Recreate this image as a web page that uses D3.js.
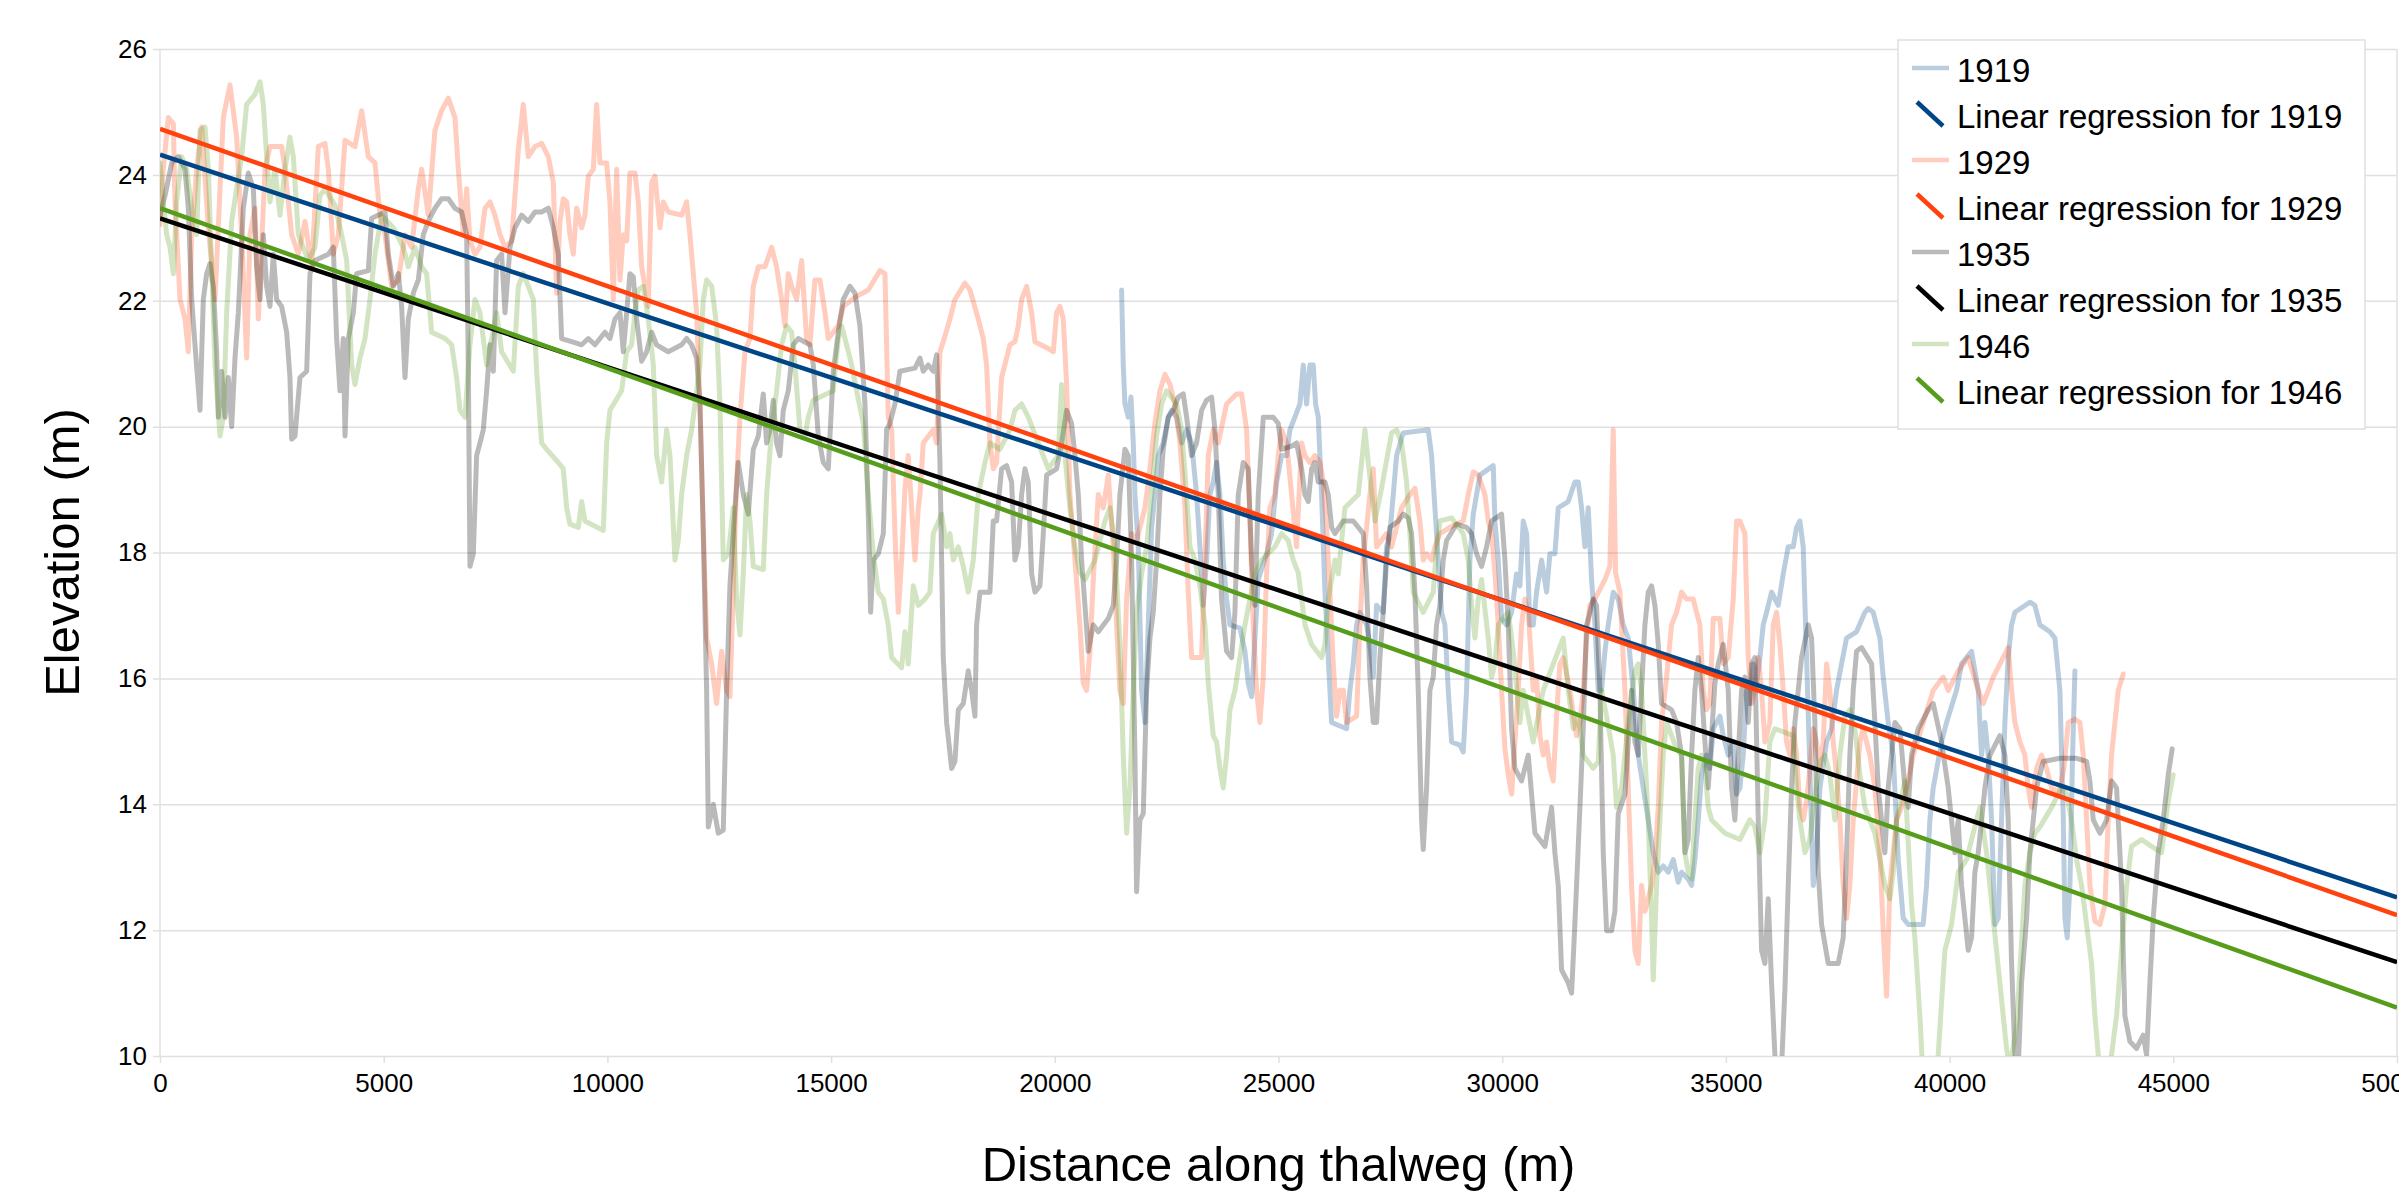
<!DOCTYPE html>
<html><head><meta charset="utf-8">
<script src="https://cdn.jsdelivr.net/npm/d3@7"></script>
<style>
html,body{margin:0;padding:0;background:#fff;overflow:hidden;}
svg{display:block;font-family:"Liberation Sans",Arial,sans-serif;}
</style></head><body>
<svg id="chart" width="2399" height="1197"></svg>
<script>
// ---------- data ----------
const xTicks = [0,5000,10000,15000,20000,25000,30000,35000,40000,45000,50000];
const yTicks = [10,12,14,16,18,20,22,24,26];
const seriesNames = ["1919","1929","1935","1946"];
const seriesColors = ["#004586","#ff420e","#000000","#579d1c"];
const regressionX = [0, 50000];
const regressionStartY = [24.32, 24.73, 23.31, 23.47];
const regressionEndY = [12.52, 12.24, 11.49, 10.77];

const data1919 = [[21493,22.17],[21530,20.98],[21567,20.36],[21642,20.15],[21702,20.47],[21754,19.74],[21791,18.92],[21866,18.09],[21940,15.81],[22015,15.30],[22089,16.85],[22164,18.40],[22238,18.92],[22313,19.54],[22424,19.74],[22536,20.15],[22611,20.26],[22723,20.15],[22834,19.74],[22946,19.95],[23058,19.74],[23169,18.92],[23244,18.09],[23318,17.16],[23393,17.88],[23467,18.92],[23542,19.12],[23616,19.43],[23691,18.92],[23765,17.88],[23840,17.26],[23914,16.85],[24138,16.80],[24250,16.43],[24324,15.92],[24399,15.71],[24473,16.64],[24548,17.57],[24734,17.98],[24846,18.30],[24958,19.12],[25069,19.54],[25181,19.54],[25255,19.95],[25367,20.15],[25479,20.36],[25553,20.98],[25628,20.36],[25702,20.98],[25777,20.98],[25829,20.36],[25889,20.15],[25963,18.92],[26038,17.37],[26112,16.33],[26187,15.30],[26522,15.20],[26596,15.81],[26671,16.23],[26745,16.85],[26820,17.05],[26969,16.85],[27043,16.54],[27118,16.02],[27192,17.16],[27341,17.05],[27416,18.09],[27490,18.30],[27565,18.92],[27639,19.54],[27788,19.90],[28347,19.95],[28422,19.54],[28496,18.71],[28571,17.88],[28645,17.05],[28720,16.85],[28794,15.81],[28869,14.99],[29055,14.94],[29129,14.83],[29204,15.81],[29278,17.88],[29353,18.61],[29427,18.92],[29502,19.23],[29800,19.38],[29837,18.50],[29912,17.88],[29986,16.95],[30098,16.85],[30210,17.05],[30321,17.66],[30396,17.47],[30470,18.50],[30545,18.30],[30619,16.85],[30694,16.85],[30768,17.37],[30880,17.88],[30992,17.37],[31066,17.98],[31178,17.98],[31253,18.71],[31476,18.81],[31625,19.12],[31700,19.12],[31774,18.71],[31849,18.09],[31923,18.71],[31998,17.57],[32072,16.85],[32147,15.81],[32221,15.81],[32296,16.43],[32370,16.85],[32482,17.37],[32594,17.26],[32705,16.85],[32817,16.64],[32929,15.81],[33041,14.78],[33152,14.26],[33264,13.75],[33376,13.23],[33488,12.92],[33599,13.02],[33711,12.92],[33823,13.12],[33934,12.76],[34009,12.92],[34158,12.81],[34233,12.71],[34307,13.12],[34382,13.75],[34456,14.47],[34568,14.78],[34642,14.57],[34717,15.20],[34866,15.40],[34940,15.09],[35052,14.78],[35164,14.99],[35238,14.16],[35313,14.26],[35387,14.78],[35462,15.81],[35536,15.60],[35611,16.23],[35685,15.92],[35760,16.33],[35834,16.85],[35909,17.05],[36021,17.37],[36170,17.16],[36282,17.66],[36393,18.09],[36505,18.09],[36579,18.40],[36654,18.50],[36728,18.09],[36803,16.33],[36877,14.57],[36952,12.71],[37026,13.23],[37101,14.26],[37250,14.99],[37362,15.20],[37473,15.81],[37585,16.23],[37697,16.64],[37920,16.74],[38107,17.05],[38181,17.11],[38293,17.05],[38442,16.64],[38516,16.02],[38628,15.30],[38740,14.78],[38852,13.12],[38963,12.19],[39075,12.09],[39410,12.09],[39485,12.71],[39559,13.75],[39634,14.26],[39820,14.99],[39932,15.30],[40155,15.81],[40267,16.23],[40491,16.43],[40640,15.81],[40714,14.78],[40789,15.30],[40863,14.78],[40938,13.75],[41012,12.09],[41087,12.19],[41161,13.75],[41236,15.30],[41310,16.33],[41385,16.85],[41459,17.05],[41794,17.21],[41906,17.16],[42018,16.85],[42241,16.74],[42353,16.64],[42465,15.81],[42540,13.80],[42577,12.19],[42629,11.88],[42689,12.71],[42749,14.78],[42801,16.12]];

const data1929 = [[0,23.21],[74,24.09],[186,24.91],[298,24.81],[335,23.57],[447,22.02],[559,21.71],[633,21.19],[708,23.05],[819,24.09],[931,24.76],[1080,23.16],[1229,22.02],[1415,24.91],[1564,25.43],[1713,24.60],[1825,23.05],[1937,21.09],[2011,23.05],[2123,23.47],[2198,21.71],[2347,24.09],[2458,24.45],[2719,24.45],[2794,24.09],[2943,23.05],[3092,22.74],[3241,23.26],[3390,22.54],[3539,24.45],[3688,24.50],[3762,24.09],[3874,22.74],[3986,23.05],[4135,24.55],[4358,24.45],[4507,25.02],[4656,24.29],[4805,24.19],[4917,23.36],[5029,23.05],[5178,22.23],[5327,22.33],[5476,23.05],[5625,22.85],[5774,23.78],[5848,24.09],[5997,23.36],[6146,24.71],[6295,25.02],[6444,25.22],[6593,24.91],[6668,24.09],[6779,23.05],[6854,23.78],[6928,22.95],[7040,22.74],[7152,22.85],[7264,23.47],[7375,23.57],[7487,23.36],[7599,23.05],[7711,22.85],[7860,22.95],[8009,24.40],[8120,25.12],[8232,24.29],[8381,24.45],[8530,24.50],[8679,24.29],[8791,23.88],[8865,22.12],[8940,23.26],[9014,23.62],[9089,23.57],[9163,23.05],[9238,22.74],[9312,23.47],[9424,23.16],[9499,23.36],[9573,23.98],[9685,24.09],[9759,25.12],[9834,24.19],[9983,24.19],[10057,23.57],[10132,22.02],[10206,24.09],[10281,22.33],[10355,23.05],[10430,22.95],[10504,24.03],[10616,24.03],[10691,23.57],[10765,22.54],[10914,21.91],[10989,23.88],[11063,23.98],[11175,23.16],[11249,23.57],[11361,23.41],[11659,23.36],[11771,23.57],[11845,23.05],[11920,22.43],[11994,21.81],[12069,20.36],[12143,18.40],[12218,16.64],[12330,16.23],[12441,15.60],[12553,16.43],[12665,15.81],[12739,15.71],[12814,17.47],[12888,19.12],[12963,20.15],[13075,21.19],[13186,21.40],[13261,22.23],[13373,22.54],[13522,22.54],[13671,22.85],[13782,22.54],[13894,22.02],[13969,21.60],[14043,22.43],[14118,22.23],[14229,22.02],[14341,22.64],[14453,21.40],[14527,21.30],[14639,22.33],[14751,22.33],[14863,21.81],[14937,21.40],[15161,21.60],[15272,21.91],[15570,22.07],[15831,22.17],[16092,22.48],[16204,22.43],[16278,20.15],[16353,19.95],[16427,18.30],[16502,17.05],[16576,17.88],[16651,19.02],[16725,19.54],[16800,18.71],[16874,17.88],[16949,18.71],[16986,18.92],[17060,19.74],[17284,19.95],[17358,19.74],[17433,21.19],[17507,21.35],[17656,21.71],[17768,22.02],[17992,22.28],[18103,22.17],[18290,21.71],[18401,21.40],[18476,20.98],[18550,19.74],[18625,19.33],[18699,19.43],[18811,20.78],[18997,21.30],[19109,21.35],[19184,21.60],[19258,22.02],[19370,22.23],[19482,21.81],[19556,21.35],[19854,21.24],[19966,21.19],[20040,21.81],[20115,21.91],[20189,21.71],[20264,20.67],[20338,18.92],[20450,17.88],[20562,16.85],[20636,15.92],[20711,15.81],[20785,16.43],[20860,17.57],[20972,18.92],[21083,18.71],[21195,19.23],[21307,18.09],[21381,16.85],[21456,15.81],[21530,15.60],[21605,17.26],[21717,18.30],[21828,18.19],[22015,18.71],[22126,19.33],[22238,20.05],[22350,20.57],[22462,20.83],[22573,20.67],[22685,20.36],[22797,19.74],[22909,18.71],[22983,17.37],[23058,16.33],[23281,16.33],[23356,17.88],[23430,19.54],[23542,19.95],[23654,19.74],[23840,20.36],[24063,20.52],[24175,20.52],[24287,19.95],[24361,18.50],[24436,16.85],[24510,15.81],[24585,15.30],[24659,16.02],[24734,17.68],[24808,18.71],[24920,18.92],[24995,19.54],[25069,19.95],[25181,19.74],[25293,18.92],[25404,18.09],[25516,19.74],[25591,19.54],[25702,19.43],[25814,19.54],[25926,19.43],[26000,19.12],[26075,18.40],[26149,17.37],[26224,16.23],[26298,15.40],[26373,15.81],[26447,15.81],[26522,15.30],[26745,15.40],[26820,16.85],[26894,17.88],[26969,18.40],[27043,18.92],[27118,19.33],[27192,18.09],[27416,18.30],[27528,18.09],[27639,18.40],[27751,18.71],[27937,18.92],[28049,19.02],[28161,18.50],[28235,17.88],[28310,17.98],[28422,17.88],[28496,18.09],[28608,18.30],[28831,18.40],[29129,18.50],[29241,18.92],[29353,19.28],[29465,19.23],[29614,18.92],[29688,18.50],[29763,18.30],[29837,17.68],[29912,16.85],[29986,15.81],[30061,14.88],[30135,14.47],[30210,14.16],[30284,14.99],[30359,15.81],[30433,16.85],[30508,17.26],[30582,17.05],[30694,15.81],[30768,16.02],[30843,15.09],[30917,14.78],[30992,14.99],[31066,14.57],[31141,14.37],[31215,15.40],[31290,16.23],[31364,16.33],[31513,15.81],[31662,15.09],[31737,15.30],[31811,15.81],[31886,16.64],[31960,17.16],[32072,17.26],[32296,17.57],[32407,17.78],[32482,19.95],[32534,17.68],[32631,17.37],[32743,15.81],[32817,14.26],[32892,12.71],[32966,11.68],[33041,11.47],[33115,12.71],[33190,12.30],[33264,12.50],[33339,12.71],[33413,13.12],[33488,13.95],[33562,15.30],[33674,16.02],[33786,16.85],[33897,17.05],[34009,17.37],[34121,17.26],[34270,17.26],[34344,17.05],[34419,16.85],[34493,15.81],[34568,15.50],[34642,15.60],[34717,16.95],[34866,16.95],[34940,16.23],[35052,16.33],[35164,17.26],[35238,18.50],[35313,18.50],[35425,18.30],[35499,16.33],[35574,15.60],[35648,15.81],[35723,16.33],[35797,15.81],[35872,14.99],[35983,15.30],[36058,16.85],[36132,17.05],[36207,16.54],[36281,15.81],[36356,14.99],[36430,14.78],[36505,15.20],[36579,14.78],[36654,13.95],[36728,13.75],[36803,14.05],[36877,14.57],[36952,15.20],[37026,14.99],[37101,14.57],[37175,14.99],[37250,16.23],[37324,15.81],[37399,14.99],[37473,14.47],[37548,13.75],[37622,12.71],[37697,12.19],[37771,12.71],[37846,13.75],[37920,14.37],[37995,14.99],[38069,15.20],[38218,14.78],[38330,14.26],[38442,13.23],[38516,11.99],[38591,10.95],[38665,12.71],[38740,13.23],[38814,13.75],[38926,13.95],[39038,14.26],[39187,14.78],[39410,15.30],[39634,15.81],[39857,16.02],[39969,15.81],[40193,16.12],[40416,16.33],[40640,15.81],[40752,15.60],[40975,16.02],[41310,16.49],[41385,15.81],[41459,15.30],[41571,14.99],[41683,14.78],[41757,14.26],[41832,13.95],[41944,14.57],[42055,14.78],[42167,14.57],[42279,14.26],[42450,14.20],[42560,14.60],[42652,15.30],[42801,15.35],[42912,15.30],[42987,14.78],[43062,13.75],[43136,12.71],[43248,12.14],[43360,12.09],[43471,12.40],[43546,13.75],[43620,14.78],[43695,15.30],[43769,15.81],[43881,16.07]];

const data1935 = [[0,23.36],[112,23.67],[261,24.19],[410,24.29],[559,24.09],[633,23.47],[708,22.02],[782,21.30],[894,20.26],[968,22.02],[1043,22.43],[1117,22.59],[1192,22.23],[1266,21.19],[1304,20.15],[1378,20.88],[1453,20.15],[1527,20.78],[1602,20.00],[1676,21.09],[1751,21.81],[1862,23.47],[1974,24.03],[2086,23.78],[2160,22.54],[2235,22.02],[2309,23.05],[2384,22.23],[2458,21.91],[2533,22.74],[2607,22.02],[2719,21.91],[2831,21.50],[2905,20.78],[2943,19.80],[3017,19.85],[3129,20.78],[3278,20.88],[3352,22.43],[3464,22.64],[3762,22.74],[3874,22.85],[3948,21.40],[4023,20.57],[4097,21.40],[4135,19.85],[4209,21.40],[4321,21.81],[4395,22.43],[4656,22.48],[4731,23.31],[5029,23.41],[5103,22.74],[5215,22.23],[5327,22.43],[5401,21.91],[5476,20.78],[5550,21.71],[5662,22.12],[5774,22.33],[5885,23.05],[5997,23.26],[6146,23.47],[6295,23.62],[6444,23.62],[6593,23.47],[6742,23.41],[6854,23.05],[6891,20.98],[6928,17.78],[7003,17.98],[7077,19.54],[7152,19.74],[7226,19.95],[7301,20.57],[7375,21.30],[7450,20.88],[7524,22.64],[7636,22.74],[7711,21.81],[7823,22.85],[7934,23.16],[8083,23.36],[8232,23.26],[8381,23.41],[8530,23.41],[8679,23.47],[8791,23.16],[8903,22.74],[8977,21.40],[9201,21.35],[9424,21.30],[9573,21.40],[9722,21.30],[9946,21.50],[10057,21.40],[10169,21.71],[10281,21.81],[10355,21.19],[10430,21.81],[10504,22.43],[10579,22.38],[10653,21.71],[10765,21.04],[10877,21.19],[10989,21.50],[11100,21.30],[11361,21.19],[11659,21.30],[11771,21.40],[11883,21.30],[11994,21.09],[12069,20.36],[12143,18.30],[12218,15.81],[12255,13.64],[12367,14.00],[12479,13.54],[12590,13.59],[12665,15.81],[12739,17.47],[12851,18.71],[12925,19.43],[13037,18.92],[13149,18.61],[13261,19.64],[13373,19.85],[13484,20.52],[13559,19.74],[13633,19.95],[13708,20.42],[13782,19.74],[13857,19.54],[13931,20.26],[14043,20.57],[14155,21.30],[14267,21.40],[14527,21.30],[14602,20.98],[14714,19.85],[14825,19.43],[14937,19.33],[15049,20.88],[15161,21.50],[15272,22.02],[15421,22.23],[15533,22.12],[15645,21.60],[15757,20.36],[15831,18.61],[15883,17.05],[15943,17.88],[16055,17.98],[16167,18.30],[16241,19.95],[16315,20.05],[16427,20.36],[16539,20.88],[16874,20.93],[16986,21.09],[17060,20.88],[17172,20.98],[17284,20.88],[17358,21.14],[17396,20.36],[17433,19.43],[17507,16.33],[17582,15.30],[17694,14.57],[17768,14.68],[17843,15.50],[17954,15.60],[18066,16.12],[18141,15.81],[18215,15.40],[18252,16.85],[18327,17.37],[18550,17.37],[18625,18.50],[18699,18.50],[18811,19.33],[18923,19.38],[19035,19.12],[19109,17.88],[19184,18.09],[19258,18.92],[19333,19.33],[19407,19.12],[19482,17.66],[19556,17.37],[19668,17.47],[19743,18.30],[19817,19.23],[20040,19.33],[20152,19.74],[20264,20.26],[20375,20.05],[20450,19.54],[20525,18.92],[20599,17.88],[20674,17.16],[20748,16.43],[20860,16.85],[20972,16.74],[21195,16.95],[21307,17.16],[21381,17.88],[21456,18.92],[21567,19.64],[21642,19.54],[21717,17.88],[21791,14.78],[21828,12.61],[21903,13.75],[21977,13.85],[22052,15.81],[22126,16.64],[22201,17.05],[22275,17.88],[22350,18.92],[22424,19.64],[22536,20.15],[22648,20.26],[22760,20.47],[22871,20.52],[22946,20.15],[23058,19.54],[23169,19.74],[23281,20.26],[23393,20.42],[23505,20.47],[23579,19.95],[23654,18.92],[23728,17.26],[23840,16.43],[23952,16.33],[24026,17.05],[24101,18.92],[24212,19.43],[24324,19.33],[24399,17.88],[24473,17.16],[24548,18.92],[24660,20.15],[24883,20.15],[24995,20.05],[25069,19.64],[25293,19.69],[25404,19.74],[25516,19.33],[25591,18.92],[25665,18.81],[25740,19.33],[25814,19.43],[25889,19.12],[26038,19.12],[26112,18.92],[26187,18.40],[26261,18.30],[26447,18.50],[26671,18.50],[26894,18.30],[26969,17.47],[27043,16.02],[27118,15.30],[27192,15.30],[27267,16.33],[27341,17.05],[27416,17.88],[27490,18.40],[27677,18.50],[27788,18.61],[27900,18.55],[27975,18.30],[28049,17.37],[28124,15.81],[28198,13.75],[28235,13.28],[28310,14.26],[28384,15.81],[28459,16.02],[28533,16.85],[28608,17.16],[28682,17.88],[28757,18.19],[28980,18.45],[29204,18.40],[29316,18.30],[29427,17.98],[29539,17.78],[29651,18.09],[29763,18.50],[29986,18.61],[30061,17.88],[30135,16.85],[30210,15.20],[30284,14.57],[30433,14.37],[30582,14.78],[30657,14.16],[30731,13.54],[30955,13.33],[31029,13.64],[31104,13.95],[31178,13.23],[31253,12.71],[31327,11.37],[31476,11.16],[31551,11.00],[31610,11.88],[31662,12.71],[31737,13.95],[31811,15.20],[31886,16.85],[31960,17.05],[32035,17.26],[32109,17.16],[32184,15.81],[32258,13.23],[32333,11.99],[32445,11.99],[32519,12.30],[32594,13.85],[32743,14.16],[32817,14.99],[32892,15.81],[32966,14.99],[33041,14.78],[33115,15.81],[33190,16.85],[33264,17.37],[33339,17.47],[33413,17.16],[33488,16.54],[33562,15.60],[33786,15.50],[33897,15.30],[34009,14.78],[34084,13.23],[34158,13.44],[34233,14.78],[34307,15.81],[34382,16.33],[34456,15.81],[34531,14.99],[34605,14.26],[34680,15.09],[34754,15.92],[34829,16.23],[34940,16.54],[35052,15.81],[35127,14.26],[35201,13.75],[35276,14.78],[35350,15.81],[35425,16.02],[35499,15.30],[35574,16.23],[35648,16.33],[35723,13.75],[35797,11.68],[35872,11.47],[35946,12.50],[36021,11.16],[36095,10.02],[36170,9.60],[36244,9.81],[36319,11.06],[36393,12.71],[36468,14.26],[36542,15.30],[36617,15.81],[36691,16.33],[36840,16.85],[36915,16.64],[36989,15.30],[37064,12.92],[37138,12.09],[37287,11.47],[37511,11.47],[37622,11.88],[37697,13.23],[37771,14.78],[37846,15.81],[37920,16.43],[38032,16.49],[38256,16.23],[38330,15.30],[38405,14.26],[38554,13.23],[38628,14.26],[38777,15.30],[38889,15.20],[39001,14.26],[39075,13.95],[39150,14.78],[39299,15.20],[39522,15.50],[39634,15.60],[39820,14.99],[39969,14.26],[40118,13.23],[40193,13.75],[40267,12.71],[40342,12.19],[40416,11.68],[40491,11.88],[40565,12.92],[40640,13.23],[40789,14.26],[40901,14.78],[41124,15.09],[41236,14.78],[41310,13.75],[41385,11.47],[41460,10.02],[41534,9.80],[41608,11.16],[41721,12.19],[41795,13.23],[41944,14.26],[42093,14.68],[42466,14.73],[42838,14.73],[43062,14.68],[43136,14.37],[43211,13.75],[43360,13.54],[43509,13.75],[43620,14.37],[43732,14.26],[43844,12.71],[43918,10.64],[44030,10.23],[44179,10.12],[44328,10.33],[44403,10.02],[44477,11.16],[44552,12.19],[44663,13.23],[44775,13.75],[44887,14.47],[44976,14.88]];

const data1946 = [[0,24.19],[74,23.57],[149,23.05],[223,22.85],[298,22.43],[372,23.57],[484,24.29],[596,24.09],[708,23.47],[819,23.05],[894,24.71],[1005,24.76],[1080,24.09],[1155,22.54],[1229,20.98],[1341,19.85],[1415,20.15],[1490,21.81],[1602,23.26],[1713,23.78],[1825,24.29],[1937,25.12],[2123,25.28],[2235,25.48],[2309,25.12],[2384,24.29],[2458,23.57],[2570,24.09],[2682,23.36],[2794,24.09],[2905,24.60],[2980,24.29],[3092,23.05],[3315,22.64],[3464,22.85],[3576,23.67],[3688,23.78],[3911,23.52],[4060,23.05],[4172,22.64],[4284,20.98],[4358,20.67],[4470,21.09],[4582,21.40],[4693,22.02],[4805,22.74],[4954,23.36],[5215,23.16],[5438,22.85],[5550,22.54],[5699,22.85],[5848,22.54],[5960,22.43],[6072,21.50],[6370,21.40],[6519,21.30],[6630,20.78],[6705,20.26],[6817,20.15],[6928,21.30],[7040,22.02],[7152,21.81],[7301,20.98],[7413,21.40],[7524,21.81],[7636,21.19],[7897,20.88],[8009,22.23],[8120,22.43],[8232,22.23],[8344,22.02],[8418,20.88],[8530,19.74],[8642,19.64],[8903,19.43],[9014,19.33],[9089,18.71],[9163,18.45],[9350,18.40],[9424,18.81],[9499,18.50],[9908,18.35],[9983,19.74],[10057,20.26],[10318,20.57],[10430,21.19],[10542,21.30],[10616,21.81],[10691,22.17],[10802,22.23],[10914,21.71],[11026,20.98],[11100,19.54],[11212,19.12],[11324,19.95],[11398,19.54],[11510,17.88],[11585,18.19],[11659,18.92],[11771,19.54],[11883,19.95],[11957,20.36],[12069,20.98],[12143,22.02],[12218,22.33],[12330,22.23],[12441,21.60],[12516,20.36],[12590,17.88],[12702,17.98],[12814,18.71],[12888,17.26],[12963,16.69],[13037,17.66],[13112,18.92],[13186,18.50],[13261,17.78],[13484,17.73],[13559,18.92],[13671,19.95],[13782,20.57],[13894,21.30],[14006,21.60],[14118,21.50],[14192,20.98],[14304,19.95],[14416,19.85],[14490,20.15],[14602,20.42],[15049,20.57],[15161,21.40],[15235,21.60],[15347,21.30],[15459,20.98],[15570,20.57],[15719,20.05],[15831,18.92],[15943,17.98],[16055,17.37],[16167,17.26],[16278,16.85],[16353,16.33],[16576,16.17],[16651,16.74],[16725,16.23],[16837,17.47],[16949,17.16],[17098,17.26],[17209,17.37],[17284,18.30],[17470,18.61],[17582,18.09],[17656,18.30],[17731,17.88],[17843,18.09],[17954,17.78],[18066,17.37],[18178,17.88],[18290,18.92],[18439,19.43],[18550,19.74],[18774,19.64],[18997,19.95],[19109,20.26],[19258,20.36],[19407,20.15],[19631,19.74],[19854,19.33],[20077,19.54],[20152,20.67],[20226,19.54],[20338,18.71],[20450,18.09],[20562,17.68],[20674,17.57],[20897,17.88],[21121,18.50],[21232,18.71],[21344,18.09],[21456,16.54],[21530,14.78],[21605,13.54],[21679,14.26],[21754,15.81],[21828,17.05],[21940,17.66],[22052,18.09],[22164,18.92],[22275,19.85],[22387,20.36],[22499,20.57],[22723,20.36],[22834,19.95],[22946,18.92],[23021,18.09],[23132,17.88],[23244,17.47],[23356,16.85],[23430,15.92],[23542,15.09],[23616,14.99],[23691,14.57],[23765,14.26],[23840,14.78],[23914,15.50],[24026,15.81],[24138,16.33],[24250,16.85],[24361,17.26],[24473,17.66],[24622,17.88],[24920,18.09],[25069,18.30],[25218,18.19],[25330,17.88],[25441,17.68],[25591,16.85],[25740,16.54],[25963,16.33],[26038,16.54],[26112,17.26],[26261,17.88],[26336,17.66],[26485,18.71],[26783,18.92],[26857,19.43],[26932,19.95],[27006,19.43],[27155,18.50],[27304,19.02],[27528,19.90],[27639,19.95],[27751,19.74],[27863,19.12],[27937,18.30],[28012,17.37],[28235,17.05],[28459,17.37],[28533,18.09],[28608,18.50],[28868,18.55],[29129,18.30],[29241,17.88],[29316,17.16],[29390,16.64],[29465,17.26],[29539,17.57],[29688,16.64],[29763,16.02],[29837,16.23],[29912,16.85],[30135,17.05],[30247,16.43],[30396,15.30],[30470,15.81],[30694,14.99],[30917,15.81],[31141,16.23],[31364,16.64],[31476,15.81],[31588,15.20],[31700,15.40],[31811,14.78],[32035,14.57],[32147,14.68],[32221,15.81],[32333,15.40],[32482,14.78],[32556,13.95],[32668,14.26],[32817,15.30],[32966,16.12],[33041,16.23],[33115,15.81],[33190,14.78],[33264,13.75],[33339,12.19],[33376,11.21],[33450,12.71],[33525,13.75],[33599,14.78],[33674,15.30],[33897,14.88],[34009,14.78],[34084,13.23],[34158,12.92],[34233,12.81],[34307,13.75],[34382,14.57],[34456,14.78],[34531,14.57],[34605,13.95],[34680,13.75],[34978,13.54],[35313,13.44],[35536,13.75],[35648,13.64],[35760,13.23],[35872,13.75],[35983,14.99],[36095,15.20],[36505,15.09],[36579,14.26],[36654,13.75],[36766,13.23],[36877,13.44],[36952,13.95],[37101,14.68],[37213,14.78],[37324,14.47],[37436,13.75],[37548,14.78],[37660,15.40],[37772,15.50],[37883,15.20],[37995,14.47],[38107,13.95],[38330,13.54],[38554,12.71],[38665,12.50],[38740,12.92],[38814,13.75],[39001,14.37],[39150,12.40],[39224,11.88],[39336,10.64],[39410,9.60],[39597,9.60],[39746,10.02],[39820,10.85],[39895,11.68],[40044,12.09],[40193,12.92],[40379,13.12],[40602,13.75],[40677,13.95],[40826,13.23],[40975,12.19],[41124,11.16],[41273,10.12],[41347,9.81],[41500,10.50],[41683,12.71],[41795,13.23],[41907,13.54],[42019,13.64],[42279,13.95],[42503,14.26],[42615,14.16],[42726,13.75],[42838,13.12],[42950,12.71],[43062,12.09],[43173,11.47],[43248,10.64],[43322,10.02],[43471,9.60],[43620,10.02],[43732,10.64],[43844,11.68],[43956,12.71],[44067,13.33],[44291,13.44],[44514,13.33],[44738,13.23],[44812,13.64],[44887,14.05],[44998,14.47]];

const seriesData = [data1919, data1929, data1935, data1946];
const legendLabels = ["1919","Linear regression for 1919","1929","Linear regression for 1929","1935","Linear regression for 1935","1946","Linear regression for 1946"];

// ---------- drawing ----------
(function draw() {
  const svg = d3.select("#chart");
  const pL = 160, pT = 49, pR = 2397, pB = 1056;
  const W = pR - pL, H = pB - pT;
  const x = d3.scaleLinear().domain([0, 50000]).range([pL, pR]);
  const y = d3.scaleLinear().domain([10, 26]).range([pB, pT]);
  const gridColor = "#e0e0e0";
  const dataOpacity = 0.27;
  const font = '"Liberation Sans", Arial, sans-serif';

  // grid lines (extend 7px left as tick marks)
  svg.append("g").attr("transform", `translate(${pL - 7},0)`)
    .call(d3.axisRight(y).tickValues(yTicks).tickSize(W + 7).tickFormat(""))
    .call(g => g.select(".domain").remove())
    .call(g => g.selectAll("line").attr("stroke", gridColor).attr("stroke-width", 1.5));

  // y axis line and right border
  [0, 50000].forEach(v => {
    svg.append("line").attr("x1", x(v)).attr("x2", x(v)).attr("y1", pT).attr("y2", pB)
      .attr("stroke", gridColor).attr("stroke-width", 1.5);
  });

  // y labels
  svg.append("g").attr("transform", `translate(${pL},0)`)
    .call(d3.axisLeft(y).tickValues(yTicks).tickSize(0).tickPadding(13).tickFormat(d3.format("d")))
    .call(g => g.select(".domain").remove())
    .call(g => g.selectAll("text").attr("font-size", 26).attr("fill", "#000").attr("font-family", font));

  // x axis
  svg.append("g").attr("transform", `translate(0,${pB})`)
    .call(d3.axisBottom(x).tickValues(xTicks).tickSize(7).tickPadding(10.5).tickFormat(d3.format("d")))
    .call(g => g.select(".domain").remove())
    .call(g => g.selectAll("line").attr("stroke", gridColor).attr("stroke-width", 1.5))
    .call(g => g.selectAll("text").attr("font-size", 26).attr("fill", "#000").attr("font-family", font));

  // clip
  svg.append("defs").append("clipPath").attr("id", "plotClip")
    .append("rect").attr("x", pL).attr("y", pT).attr("width", W).attr("height", H);

  const plot = svg.append("g").attr("clip-path", "url(#plotClip)");
  const line = d3.line().x(d => x(d[0])).y(d => y(d[1]));

  seriesData.forEach((d, i) => {
    plot.append("path").datum(d).attr("d", line)
      .attr("fill", "none").attr("stroke", seriesColors[i]).attr("stroke-opacity", dataOpacity)
      .attr("stroke-width", 5).attr("stroke-linejoin", "round").attr("stroke-linecap", "round");
  });
  seriesNames.forEach((n, i) => {
    const pts = [[regressionX[0], regressionStartY[i]], [regressionX[1], regressionEndY[i]]];
    plot.append("path").datum(pts).attr("d", line)
      .attr("fill", "none").attr("stroke", seriesColors[i]).attr("stroke-width", 4.5);
  });

  // axis titles
  svg.append("text").attr("x", (pL + pR) / 2).attr("y", 1181)
    .attr("text-anchor", "middle").attr("font-size", 49).attr("fill", "#000")
    .text("Distance along thalweg (m)");
  svg.append("text").attr("transform", `translate(79,${(pT + pB) / 2}) rotate(-90)`)
    .attr("text-anchor", "middle").attr("font-size", 49).attr("fill", "#000")
    .text("Elevation (m)");

  // legend
  const lg = svg.append("g");
  lg.append("rect").attr("x", 1898).attr("y", 40).attr("width", 467).attr("height", 389)
    .attr("fill", "#fff").attr("stroke", gridColor).attr("stroke-width", 1.5);
  legendLabels.forEach((lab, k) => {
    const si = Math.floor(k / 2), isReg = k % 2 === 1;
    const base = 82 + 46 * k;
    if (isReg) {
      lg.append("line").attr("x1", 1917).attr("y1", base - 26).attr("x2", 1943).attr("y2", base - 2)
        .attr("stroke", seriesColors[si]).attr("stroke-width", 4.5);
    } else {
      lg.append("line").attr("x1", 1912).attr("y1", base - 14).attr("x2", 1949).attr("y2", base - 14)
        .attr("stroke", seriesColors[si]).attr("stroke-opacity", dataOpacity).attr("stroke-width", 4.5);
    }
    lg.append("text").attr("x", 1957).attr("y", base).attr("font-size", 33).attr("fill", "#000").text(lab);
  });
})();
</script>
</body></html>
